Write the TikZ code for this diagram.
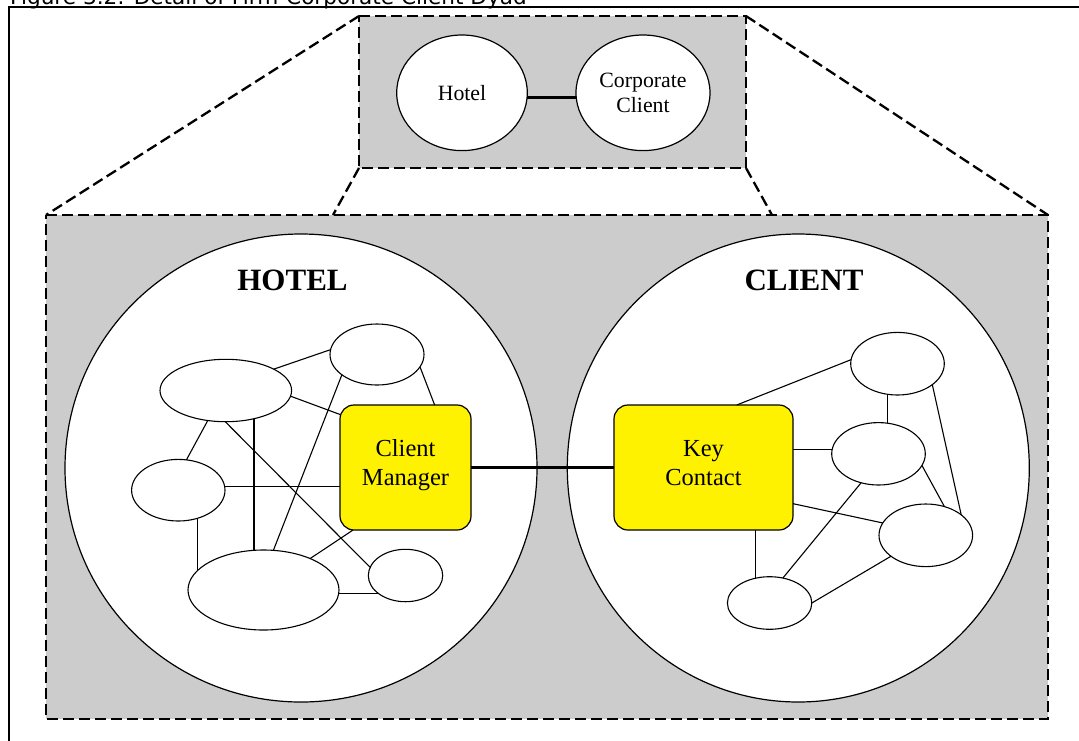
\documentclass[tikz,border=0pt]{standalone}
\usepackage{fontspec}
\setmainfont{Liberation Serif}
\newfontfamily\captionfont{DejaVu Sans}
\usetikzlibrary{shapes.geometric}
\begin{document}
\begin{tikzpicture}[x=1pt,y=-1pt,
  zoomline/.style={line width=2.3pt,dash pattern=on 11pt off 5pt},
  unit/.style={ellipse,draw,fill=white,line width=1.1pt,inner sep=0pt,outer sep=0pt},
  side/.style={ellipse,draw,fill=white,line width=1.2pt,inner sep=0pt,outer sep=0pt},
  link/.style={line width=1.1pt},
  tie/.style={line width=2.5pt},
  person/.style={rectangle,rounded corners=14pt,draw,fill=yellow,line width=1.2pt,
    inner sep=0pt,outer sep=0pt,minimum width=131pt,minimum height=125pt,
    font=\fontsize{24.5}{29}\selectfont,text height=16.4pt,text depth=38pt},
  sidetitle/.style={font=\fontsize{31}{31}\selectfont\bfseries,anchor=base,inner sep=0pt},
  small/.style={font=\fontsize{21.8}{24.4}\selectfont}
]
\useasboundingbox (0,0) rectangle (1079,740);
\clip (0,0) rectangle (1079,740);

% caption and page frame
\node[anchor=base west,inner sep=0pt,font=\captionfont\fontsize{21.6}{24}\selectfont]
  (caption) at (10,4) {Figure 3.2: Detail of Firm-Corporate Client Dyad};
\draw[line width=2pt] (9,745) -- (9,7) -- (1085,7);

% corners of the two panels
\coordinate (ptl) at (359,16);  \coordinate (ptr) at (746,16);
\coordinate (pbl) at (359,168); \coordinate (pbr) at (746,168);
\coordinate (qtl) at (46,215);  \coordinate (qtr) at (1048,215);
\coordinate (qbl) at (46,719);  \coordinate (qbr) at (1048,719);
\coordinate (ql) at (333,215);  \coordinate (qr) at (772,215);

% shaded panels
\fill[black!20] (ptl) rectangle (pbr);
\fill[black!20] (qtl) rectangle (qbr);
\draw[zoomline] (ptl) -- (ptr) -- (pbr) -- (pbl) -- cycle;
\draw[zoomline] (qtl) -- (qtr) -- (qbr) -- (qbl) -- cycle;
\draw[zoomline] (ptl) -- (qtl);
\draw[zoomline] (ptr) -- (qtr);
\draw[zoomline] (pbl) -- (ql);
\draw[zoomline] (pbr) -- (qr);

% dyad overview
\node[side,minimum width=130.6pt,minimum height=115.6pt,small] (hotel) at (462,92.8) {Hotel};
\node[side,minimum width=134pt,minimum height=115.6pt,small] (corp) at (643,92.8)
  {\parbox[t]{90pt}{\centering Corporate\\Client}};
\draw[tie] (hotel.-4) -- (hotel.-4-|corp.west);

% the two organisations
\node[side,minimum width=472pt,minimum height=468pt] (hotelside) at (301,468) {};
\node[side,minimum width=462pt,minimum height=468pt] (clientside) at (798.3,468) {};
\node[sidetitle] (hoteltitle) at (292.5,290) {HOTEL};
\node[sidetitle] (clienttitle) at (804,290) {CLIENT};

% boundary spanners
\node[person] (cm) at (405.5,467.5) {\parbox[t]{100pt}{\centering Client\\Manager}};
\node[person,minimum width=179pt] (kc) at (703.5,467.5) {\parbox[t]{100pt}{\centering Key\\Contact}};

% hotel network
\node[unit,minimum width=131.6pt,minimum height=62.4pt] (e1) at (225.8,390.5) {};
\node[unit,minimum width=94pt,minimum height=61pt] (e2) at (377,354.5) {};
\node[unit,minimum width=93.4pt,minimum height=61.6pt] (e3) at (178.3,490.2) {};
\node[unit,minimum width=151pt,minimum height=80pt] (e4) at (263.5,590) {};
\node[unit,minimum width=74.4pt,minimum height=52.4pt] (e5) at (405.5,575.5) {};

% client network
\node[unit,minimum width=93.6pt,minimum height=62.6pt] (f1) at (897.5,363.7) {};
\node[unit,minimum width=93.6pt,minimum height=62.4pt] (f2) at (878.5,453.8) {};
\node[unit,minimum width=93.6pt,minimum height=62.6pt] (f3) at (925.8,535.3) {};
\node[unit,minimum width=84.4pt,minimum height=52.6pt] (f4) at (769.6,603) {};

% hotel ties
\draw[link] (e1.24) -- (e2.174);
\draw[link] (e1.-5) -- (cm.141);
\draw[link] (e2.-16) -- (cm.65.5);
\draw[link] (e1.-121) -- (e3.75);
\draw[link] (e1.-91) -- (e5.167);
\draw[link] (e1.-45) -- (e1.-45|-e4.north);
\draw[link] (e3.5) -- (e3.5-|cm.west);
\draw[link] (e2.-150) -- (e4.76);
\draw[link] (e3.-55) -- (e3.-55|-e4.163);
\draw[link] (e4.34) -- (cm.-130);
\draw[link] (e4.-3) -- (e4.-3-|e5.-145);

% the dyad tie
\draw[tie] (cm.east) -- (kc.west);

% client ties
\draw[link] (kc.62) -- (f1.175);
\draw[link] (f1.-108) -- (f1.-108|-f2.north);
\draw[link] (f1.-31) -- (f3.30);
\draw[link] (f2.175-|kc.east) -- (f2.175);
\draw[link] (f2.-15) -- (f3.57);
\draw[link] (kc.-22) -- (f3.164);
\draw[link] (f2.-121) -- (f4.62);
\draw[link] (f3.-149) -- (f4.0);
\draw[link] (f4.119|-kc.south) -- (f4.119);
\end{tikzpicture}
\end{document}
